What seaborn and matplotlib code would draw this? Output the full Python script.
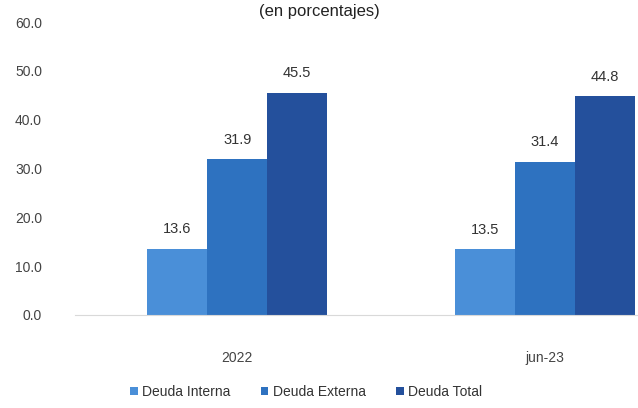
import matplotlib
matplotlib.use("Agg")
import matplotlib.pyplot as plt
import pandas as pd
import seaborn as sns

periodos = ["2022", "jun-23"]
series = ["Deuda Interna", "Deuda Externa", "Deuda Total"]
deuda_interna = [13.6, 13.5]
deuda_externa = [31.9, 31.4]
deuda_total = [45.5, 44.8]
colores = ["#4a8fd8", "#2e72c0", "#24509c"]

df = pd.DataFrame({
    "periodo": periodos * 3,
    "serie": [s for s in series for _ in periodos],
    "valor": deuda_interna + deuda_externa + deuda_total,
})

sns.set_style("white")
plt.rcParams["font.family"] = ["Liberation Sans", "DejaVu Sans"]

fig = plt.figure(figsize=(6.38, 4.08), dpi=100)
ax = fig.add_axes([0.118, 0.228, 0.882, 0.718])

sns.barplot(data=df, x="periodo", y="valor", hue="serie", palette=colores,
            width=0.585, ax=ax, saturation=1, linewidth=0)

for cont in ax.containers:
    ax.bar_label(cont, fmt="%.1f", padding=9, fontsize=10.5, color="#333333")

ax.set_ylim(0, 60)
ax.set_xlim(-0.526, 1.302)
ax.set_yticks(range(0, 61, 10))
ax.set_yticklabels([f"{v:.1f}" for v in range(0, 61, 10)])
ax.set_xlabel("")
ax.set_ylabel("")
ax.tick_params(axis="y", length=0, pad=24, labelsize=10, labelcolor="#444444")
ax.tick_params(axis="x", length=0, pad=26, labelsize=10, labelcolor="#444444")
for side in ["top", "right", "left"]:
    ax.spines[side].set_visible(False)
ax.spines["bottom"].set_color("#d9d9d9")

ax.legend(loc="center", bbox_to_anchor=(306 / 638, 16 / 408), bbox_transform=fig.transFigure,
          ncol=3, frameon=False, fontsize=10, handlelength=0.55, handleheight=0.55,
          handletextpad=0.3, columnspacing=2.2, labelcolor="#333333")

fig.text(0.5, 0.962, "(en porcentajes)", ha="center", va="baseline",
         fontsize=12, color="#222222")

fig.savefig("out.png", dpi=100)
